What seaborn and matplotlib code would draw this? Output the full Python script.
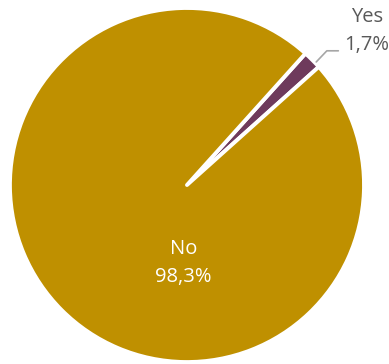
import matplotlib
matplotlib.use("Agg")
import matplotlib.pyplot as plt
import seaborn as sns

categories = ["Yes", "No"]
values = [1.7, 98.3]
labels = ["1,7%", "98,3%"]

sns.set_theme(style="white")
plt.rcParams["font.family"] = ["Open Sans", "DejaVu Sans"]

colors = ["#6E3A5C", "#BF9000"]

fig = plt.figure(figsize=(3.89, 3.64), dpi=100)
ax = fig.add_axes([0, 0, 1, 1])

wedges, _ = ax.pie(
    values,
    colors=colors,
    startangle=48,
    counterclock=False,
    radius=1.0,
    wedgeprops=dict(edgecolor="white", linewidth=2.8, joinstyle="round"),
)

ax.set_aspect("equal")
ax.set_xlim(-1.056, 1.141)
ax.set_ylim(-1.011, 1.045)
ax.axis("off")

# inside label for the large slice
ax.text(-0.02, -0.44, f"{categories[1]}\n{labels[1]}", color="white",
        ha="center", va="center", fontsize=14.5, linespacing=1.5)

# outside label for the small slice with a leader line
ax.plot([0.73, 0.79, 0.855], [0.695, 0.758, 0.758], color="#A6A6A6", lw=1.2)
ax.text(1.015, 0.87, f"{categories[0]}\n{labels[0]}", color="#595959",
        ha="center", va="center", fontsize=14.5, linespacing=1.5)

fig.savefig("out.png", dpi=100)
